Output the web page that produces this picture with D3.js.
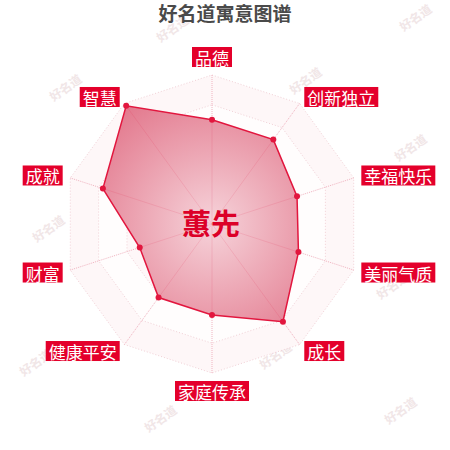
<!DOCTYPE html>
<html>
<head>
<meta charset="utf-8">
<script src="https://cdn.jsdelivr.net/npm/d3@7"></script>
<style>
  html, body { margin: 0; padding: 0; background: #fff; }
  svg { display: block; font-family: "Noto Sans CJK SC", "Noto Sans", sans-serif; }
</style>
</head>
<body>
<svg id="chart" width="450" height="450"></svg>
<script>
// radar data, clockwise from the top
const categories = ["品德", "创新独立", "幸福快乐", "美丽气质", "成长", "家庭传承", "健康平安", "财富", "成就", "智慧"];
const values = [70, 70, 60, 61, 81, 61, 61, 51, 77, 98];
const ringLevels = [20, 40, 60, 80, 100];
const titleText = "好名道寓意图谱";
const nameText = "蕙先";
const watermarks = [[172, 28], [305, 80], [415, 17], [410, 147], [65, 87], [48, 228], [35, 362],
                    [275, 355], [160, 418], [400, 410], [392, 285]];

const svg = d3.select("#chart");
const cx = 212, cy = 224;
const R = 149;

const r = d3.scaleLinear().domain([0, 100]).range([0, R]);
const angle = d3.scaleLinear().domain([0, categories.length]).range([0, 2 * Math.PI]);

// faint watermarks behind everything
svg.append("g").selectAll("text")
    .data(watermarks)
    .join("text")
    .attr("transform", d => `translate(${d[0]},${d[1]}) rotate(-35)`)
    .attr("text-anchor", "middle")
    .attr("dominant-baseline", "central")
    .attr("font-size", 12)
    .attr("font-weight", "bold")
    .attr("fill", "#f1e6e7")
    .text("好名道");

const g = svg.append("g").attr("transform", `translate(${cx},${cy})`);

const ringPath = lvl => d3.lineRadial()
    .angle((d, i) => angle(i))
    .radius(() => r(lvl))
    .curve(d3.curveLinearClosed)(categories);

// split areas, alternating faint bands
g.append("g").selectAll("path")
    .data(ringLevels.slice().reverse())
    .join("path")
    .attr("d", d => ringPath(d))
    .attr("fill", (d, i) => i % 2 === 0 ? "#fef7f8" : "#fffdfd");

// grid rings
g.append("g").selectAll("path")
    .data(ringLevels)
    .join("path")
    .attr("d", d => ringPath(d))
    .attr("fill", "none")
    .attr("stroke", "#f1d0d6")
    .attr("stroke-width", 1)
    .attr("stroke-dasharray", "1,2");

// axis spokes
g.append("g").selectAll("line")
    .data(categories)
    .join("line")
    .attr("x1", 0).attr("y1", 0)
    .attr("x2", (d, i) => r(100) * Math.sin(angle(i)))
    .attr("y2", (d, i) => -r(100) * Math.cos(angle(i)))
    .attr("stroke", "#f0b3c0")
    .attr("stroke-width", 1)
    .attr("stroke-dasharray", "1,1");

// gradient for the data area
const defs = svg.append("defs");
const grad = defs.append("radialGradient")
    .attr("id", "areaGrad")
    .attr("gradientUnits", "userSpaceOnUse")
    .attr("cx", 0).attr("cy", 0).attr("r", R);
grad.append("stop").attr("offset", "0%").attr("stop-color", "#f6d3da");
grad.append("stop").attr("offset", "100%").attr("stop-color", "#e2768b");

const area = d3.lineRadial()
    .angle((d, i) => angle(i))
    .radius(d => r(d))
    .curve(d3.curveLinearClosed);

g.append("path")
    .datum(values)
    .attr("d", area)
    .attr("fill", "url(#areaGrad)")
    .attr("stroke", "#e2163e")
    .attr("stroke-width", 1.5);

// spokes drawn again faintly over the fill
g.append("g").selectAll("line")
    .data(values)
    .join("line")
    .attr("x1", 0).attr("y1", 0)
    .attr("x2", (d, i) => r(d) * Math.sin(angle(i)))
    .attr("y2", (d, i) => -r(d) * Math.cos(angle(i)))
    .attr("stroke", "#e2163e")
    .attr("stroke-opacity", 0.12)
    .attr("stroke-width", 1);

g.append("g").selectAll("circle")
    .data(values)
    .join("circle")
    .attr("cx", (d, i) => r(d) * Math.sin(angle(i)))
    .attr("cy", (d, i) => -r(d) * Math.cos(angle(i)))
    .attr("r", 3)
    .attr("fill", "#e2163e");

// axis name labels in red boxes
const labelR = 157;
const labels = g.append("g").selectAll("g")
    .data(categories)
    .join("g");

labels.each(function(d, i) {
    const a = angle(i);
    const s = Math.sin(a), c = Math.cos(a);
    const px = labelR * s, py = -labelR * c;
    const grp = d3.select(this);
    const rect = grp.append("rect").attr("fill", "#e4002b");
    const t = grp.append("text")
        .attr("font-size", 17)
        .attr("fill", "#fff")
        .attr("dominant-baseline", "central")
        .attr("text-anchor", "middle")
        .text(d);
    const w = t.node().getComputedTextLength() + 6;
    const h = 20;
    let bx = Math.abs(s) < 0.01 ? px - w / 2 : (s > 0 ? px : px - w);
    let by = Math.abs(s) < 0.01 ? (c > 0 ? py - h : py) : py - h / 2;
    rect.attr("x", bx).attr("y", by).attr("width", w).attr("height", h);
    t.attr("x", bx + w / 2).attr("y", by + h / 2 + 0.5);
});

// center name
g.append("text")
    .attr("x", -1).attr("y", -2)
    .attr("text-anchor", "middle")
    .attr("dominant-baseline", "central")
    .attr("font-size", 29)
    .attr("font-weight", "bold")
    .attr("fill", "#dc0028")
    .text(nameText);

// title
svg.append("text")
    .attr("x", 225).attr("y", 12)
    .attr("text-anchor", "middle")
    .attr("dominant-baseline", "central")
    .attr("font-size", 19)
    .attr("font-weight", "bold")
    .attr("fill", "#4a4a4a")
    .text(titleText);
</script>
</body>
</html>
